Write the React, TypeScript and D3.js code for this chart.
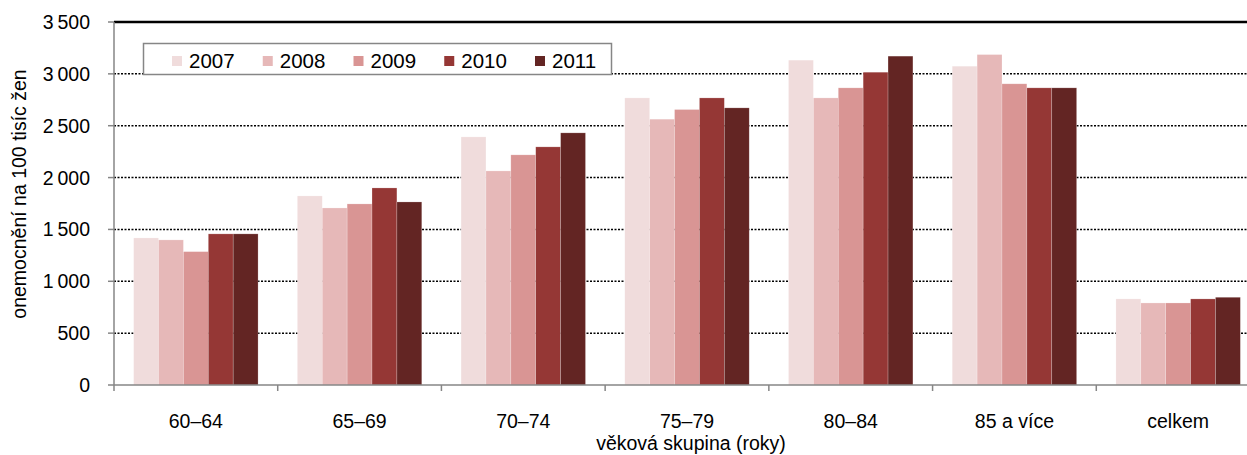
import React from "react";
import * as d3 from "d3";

const categories = ["60–64", "65–69", "70–74", "75–79", "80–84", "85 a více", "celkem"];
const years = ["2007", "2008", "2009", "2010", "2011"];
const v2007 = [1418, 1823, 2392, 2768, 3132, 3074, 830];
const v2008 = [1399, 1707, 2064, 2563, 2768, 3186, 791];
const v2009 = [1286, 1746, 2219, 2656, 2865, 2904, 791];
const v2010 = [1457, 1900, 2296, 2768, 3016, 2865, 830];
const v2011 = [1457, 1765, 2431, 2672, 3171, 2865, 846];
const seriesValues = [v2007, v2008, v2009, v2010, v2011];
const colors = ["#F0DCDC", "#E6B8B8", "#D99594", "#953735", "#632523"];
const yTicks = [0, 500, 1000, 1500, 2000, 2500, 3000, 3500];

const W = 1247;
const H = 455;
const left = 114;
const right = 1260;
const top = 22;
const bottom = 385;
const font = "'Liberation Sans', Arial, sans-serif";
const fs = 19.5;

const fmt = (v: number) => {
  const s = String(v);
  return s.length > 3 ? s.slice(0, s.length - 3) + "\u2009" + s.slice(-3) : s;
};

export default function App() {
  const x0 = d3.scaleBand<string>().domain(categories).range([left, right]).paddingInner(0.24).paddingOuter(0.12);
  const x1 = d3.scaleBand<string>().domain(years).range([0, x0.bandwidth()]).padding(0);
  const y = d3.scaleLinear().domain([0, 3500]).range([bottom, top]);
  const step = x0.step();
  const legendStep = 90.75;

  return (
    <svg width={W} height={H} style={{ position: "absolute", left: 0, top: 0, background: "#fff" }} fontFamily={font}>
      {/* gridlines */}
      {yTicks.filter((t) => t > 0).map((t) => (
        <line key={t} x1={left} x2={right} y1={y(t)} y2={y(t)} stroke="#000"
          strokeWidth={t === 3500 ? 2.5 : 1.5} strokeDasharray={t === 3500 ? undefined : "2,1.5"} />
      ))}
      {/* bars */}
      {categories.map((c, ci) => (
        <g key={c}>
          {years.map((yr, si) => {
            const v = seriesValues[si][ci];
            return (
              <rect key={yr} x={(x0(c) ?? 0) + (x1(yr) ?? 0)} y={y(v)} width={x1.bandwidth()} height={bottom - y(v)}
                fill={colors[si]} stroke="#fff" strokeOpacity={0.35} strokeWidth={0.6} />
            );
          })}
        </g>
      ))}
      {/* axes */}
      <line x1={left} x2={left} y1={top} y2={bottom} stroke="#868686" strokeWidth={1.5} />
      <line x1={left} x2={right} y1={bottom} y2={bottom} stroke="#868686" strokeWidth={1.5} />
      {yTicks.map((t) => (
        <g key={t}>
          <line x1={left - 6} x2={left} y1={y(t)} y2={y(t)} stroke="#868686" strokeWidth={1.5} />
          <text x={90} y={y(t)} dy="0.36em" textAnchor="end" fontSize={fs} fill="#000">{fmt(t)}</text>
        </g>
      ))}
      {d3.range(categories.length + 1).map((i) => (
        <line key={i} x1={left + i * step} x2={left + i * step} y1={bottom} y2={bottom + 6} stroke="#868686" strokeWidth={1.5} />
      ))}
      {categories.map((c) => (
        <text key={c} x={(x0(c) ?? 0) + x0.bandwidth() / 2} y={428} textAnchor="middle" fontSize={fs} fill="#000">{c}</text>
      ))}
      <text x={691} y={450} textAnchor="middle" fontSize={fs} fill="#000">věková skupina (roky)</text>
      <text transform={`translate(26,194) rotate(-90)`} textAnchor="middle" fontSize={fs} fill="#000">onemocnění na 100 tisíc žen</text>
      {/* legend */}
      <rect x={143.5} y={43.5} width={468} height={31} fill="#fff" stroke="#868686" strokeWidth={1.5} />
      {years.map((yr, i) => (
        <g key={yr} transform={`translate(${172 + i * legendStep},0)`}>
          <rect x={0} y={56} width={10} height={10} fill={colors[i]} />
          <text x={17} y={68} fontSize={20.5} fill="#000">{yr}</text>
        </g>
      ))}
    </svg>
  );
}
